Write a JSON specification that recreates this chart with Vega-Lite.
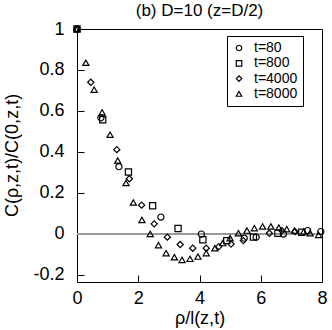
{
  "$schema": "https://vega.github.io/schema/vega-lite/v6.json",
  "width": 245,
  "height": 253,
  "autosize": {"type": "none"},
  "padding": {"left": 77, "top": 29, "right": 10, "bottom": 48},
  "title": {"text": "(b) D=10 (z=D/2)", "font": "Liberation Sans", "fontSize": 17, "fontWeight": "normal", "color": "black", "anchor": "middle", "offset": 0},
  "config": {
    "view": {"stroke": "black", "strokeWidth": 1},
    "axis": {"domain": false, "tickColor": "black", "tickWidth": 1, "labelColor": "black", "titleColor": "black", "labelFont": "Liberation Sans", "titleFont": "Liberation Sans", "labelFontSize": 18, "titleFontSize": 18, "titleFontWeight": "normal", "grid": false},
    "legend": {"labelFont": "Liberation Sans", "labelFontSize": 14, "labelColor": "black"}
  },
  "data": {"values": [
    {"x": 0, "y": 1, "t": "t=80"},
    {"x": 0.78, "y": 0.567, "t": "t=80"},
    {"x": 1.37, "y": 0.328, "t": "t=80"},
    {"x": 2.74, "y": 0.082, "t": "t=80"},
    {"x": 4.06, "y": -0.001, "t": "t=80"},
    {"x": 5.46, "y": -0.021, "t": "t=80"},
    {"x": 5.85, "y": -0.016, "t": "t=80"},
    {"x": 6.74, "y": -0.001, "t": "t=80"},
    {"x": 7.53, "y": 0.016, "t": "t=80"},
    {"x": 7.96, "y": 0.011, "t": "t=80"},
    {"x": 0, "y": 1, "t": "t=800"},
    {"x": 0.84, "y": 0.557, "t": "t=800"},
    {"x": 1.68, "y": 0.302, "t": "t=800"},
    {"x": 2.47, "y": 0.137, "t": "t=800"},
    {"x": 3.3, "y": 0.026, "t": "t=800"},
    {"x": 4.11, "y": -0.029, "t": "t=800"},
    {"x": 4.89, "y": -0.033, "t": "t=800"},
    {"x": 5.76, "y": -0.016, "t": "t=800"},
    {"x": 6.56, "y": 0.003, "t": "t=800"},
    {"x": 7.34, "y": 0.008, "t": "t=800"},
    {"x": 0, "y": 1, "t": "t=4000"},
    {"x": 0.45, "y": 0.74, "t": "t=4000"},
    {"x": 1.3, "y": 0.411, "t": "t=4000"},
    {"x": 1.71, "y": 0.269, "t": "t=4000"},
    {"x": 2.11, "y": 0.14, "t": "t=4000"},
    {"x": 2.52, "y": 0.049, "t": "t=4000"},
    {"x": 2.95, "y": -0.016, "t": "t=4000"},
    {"x": 3.37, "y": -0.052, "t": "t=4000"},
    {"x": 3.78, "y": -0.07, "t": "t=4000"},
    {"x": 4.22, "y": -0.07, "t": "t=4000"},
    {"x": 4.63, "y": -0.062, "t": "t=4000"},
    {"x": 5.03, "y": -0.05, "t": "t=4000"},
    {"x": 5.43, "y": -0.033, "t": "t=4000"},
    {"x": 6.28, "y": 0.003, "t": "t=4000"},
    {"x": 6.69, "y": 0.015, "t": "t=4000"},
    {"x": 7.12, "y": 0.011, "t": "t=4000"},
    {"x": 0, "y": 1, "t": "t=8000"},
    {"x": 0.29, "y": 0.835, "t": "t=8000"},
    {"x": 0.56, "y": 0.704, "t": "t=8000"},
    {"x": 0.82, "y": 0.593, "t": "t=8000"},
    {"x": 1.08, "y": 0.484, "t": "t=8000"},
    {"x": 1.33, "y": 0.358, "t": "t=8000"},
    {"x": 1.6, "y": 0.248, "t": "t=8000"},
    {"x": 1.84, "y": 0.153, "t": "t=8000"},
    {"x": 2.12, "y": 0.068, "t": "t=8000"},
    {"x": 2.39, "y": 0.0, "t": "t=8000"},
    {"x": 2.66, "y": -0.055, "t": "t=8000"},
    {"x": 2.91, "y": -0.094, "t": "t=8000"},
    {"x": 3.18, "y": -0.114, "t": "t=8000"},
    {"x": 3.43, "y": -0.127, "t": "t=8000"},
    {"x": 3.69, "y": -0.122, "t": "t=8000"},
    {"x": 3.95, "y": -0.111, "t": "t=8000"},
    {"x": 4.22, "y": -0.094, "t": "t=8000"},
    {"x": 4.5, "y": -0.07, "t": "t=8000"},
    {"x": 4.76, "y": -0.045, "t": "t=8000"},
    {"x": 5.0, "y": -0.021, "t": "t=8000"},
    {"x": 5.27, "y": 0.003, "t": "t=8000"},
    {"x": 5.55, "y": 0.016, "t": "t=8000"},
    {"x": 5.79, "y": 0.028, "t": "t=8000"},
    {"x": 6.06, "y": 0.036, "t": "t=8000"},
    {"x": 6.33, "y": 0.036, "t": "t=8000"},
    {"x": 6.59, "y": 0.031, "t": "t=8000"},
    {"x": 6.85, "y": 0.023, "t": "t=8000"},
    {"x": 7.1, "y": 0.016, "t": "t=8000"},
    {"x": 7.4, "y": 0.011, "t": "t=8000"},
    {"x": 7.61, "y": 0.003, "t": "t=8000"},
    {"x": 7.89, "y": -0.005, "t": "t=8000"}
  ]},
  "layer": [
    {
      "mark": {"type": "rule", "color": "#999999", "strokeWidth": 1.5},
      "encoding": {
        "x": {"datum": 0, "type": "quantitative"},
        "x2": {"datum": 8},
        "y": {"datum": 0, "type": "quantitative"}
      }
    },
    {
      "mark": {"type": "point", "filled": false, "color": "black", "size": 38, "strokeWidth": 1.2, "opacity": 1},
      "encoding": {
        "x": {"field": "x", "type": "quantitative", "scale": {"domain": [0, 8], "nice": false, "zero": false},
          "axis": {"orient": "bottom", "values": [0, 2, 4, 6, 8], "title": "ρ/l(z,t)", "titlePadding": 2, "labelPadding": 7, "labelFlush": false, "labelOverlap": false, "tickSize": 7, "offset": -7}},
        "y": {"field": "y", "type": "quantitative", "scale": {"domain": [-0.235, 1], "nice": false, "zero": false},
          "axis": {"orient": "left", "values": [-0.2, 0, 0.2, 0.4, 0.6, 0.8, 1], "title": "C(ρ,z,t)/C(0,z,t)", "titleX": -72, "titleY": 126, "titleAngle": 270, "titleBaseline": "middle", "titleAlign": "center", "labelPadding": 13, "labelFlush": false, "labelOverlap": false, "labelExpr": "replace(format(datum.value, '~g'), '\u2212', '-')", "tickSize": 7, "offset": -7}},
        "shape": {"field": "t", "type": "nominal",
          "scale": {"domain": ["t=80", "t=800", "t=4000", "t=8000"], "range": ["circle", "square", "diamond", "triangle-up"]},
          "legend": {"title": null, "orient": "none", "legendX": 150, "legendY": 7, "strokeColor": "black", "padding": 5, "symbolSize": 30, "symbolStrokeColor": "black", "symbolStrokeWidth": 1.2, "symbolFillColor": "transparent", "rowPadding": 1.3, "labelOffset": 8, "fillColor": "white"}}
      }
    }
  ]
}
